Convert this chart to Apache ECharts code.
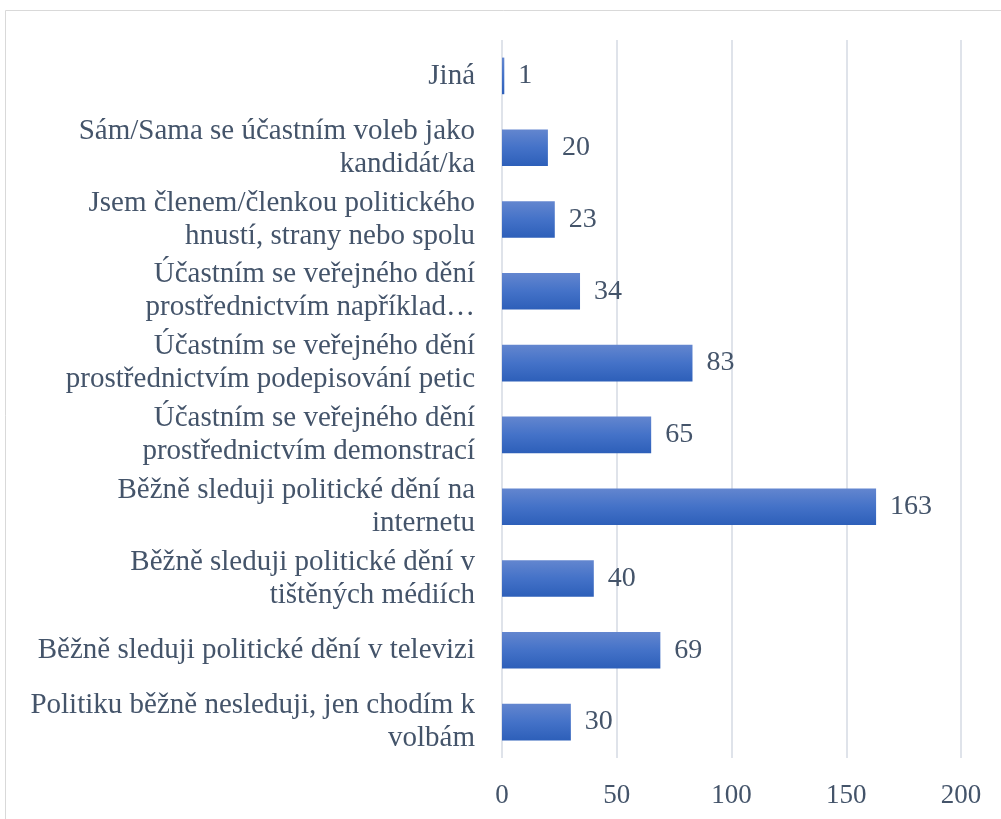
<html>
<head>
    <meta charset="utf-8" />
    <script src="https://cdn.jsdelivr.net/npm/echarts@6/dist/echarts.min.js"></script>
    <style>
        html, body { margin: 0; padding: 0; background: #fff; }
        #main { width: 1001px; height: 819px; }
    </style>
</head>
<body>
    <div id="main"></div>
    <script type="text/javascript">
        // categories top to bottom
        var categories = [
            'Jiná',
            'Sám/Sama se účastním voleb jako\nkandidát/ka',
            'Jsem členem/členkou politického\nhnustí, strany nebo spolu',
            'Účastním se veřejného dění\nprostřednictvím například…',
            'Účastním se veřejného dění\nprostřednictvím podepisování petic',
            'Účastním se veřejného dění\nprostřednictvím demonstrací',
            'Běžně sleduji politické dění na\ninternetu',
            'Běžně sleduji politické dění v\ntištěných médiích',
            'Běžně sleduji politické dění v televizi',
            'Politiku běžně nesleduji, jen chodím k\nvolbám'
        ];
        var values = [1, 20, 23, 34, 83, 65, 163, 40, 69, 30];
        var xTicks = [0, 50, 100, 150, 200];

        var textColor = '#44546a';
        var font = '"Liberation Serif", "Times New Roman", serif';

        var myChart = echarts.init(document.getElementById('main'));
        var option = {
            backgroundColor: '#fff',
            animation: false,
            graphic: [{
                type: 'rect',
                shape: { x: 5.5, y: 10.5, width: 1100, height: 900 },
                style: { fill: 'none', stroke: '#d9d9d9', lineWidth: 1 }
            }],
            grid: {
                left: 502,
                right: 40,
                top: 40,
                bottom: 61
            },
            xAxis: {
                type: 'value',
                min: xTicks[0],
                max: xTicks[xTicks.length - 1],
                interval: 50,
                axisLine: { show: false },
                axisTick: { show: false },
                axisLabel: {
                    color: textColor,
                    fontFamily: font,
                    fontSize: 27,
                    margin: 24
                },
                splitLine: {
                    lineStyle: { color: '#dfe3ea', width: 2 }
                }
            },
            yAxis: {
                type: 'category',
                inverse: true,
                data: categories,
                axisLine: { show: false },
                axisTick: { show: false },
                axisLabel: {
                    color: textColor,
                    fontFamily: font,
                    fontSize: 29,
                    lineHeight: 33,
                    align: 'right',
                    margin: 27
                }
            },
            series: [{
                type: 'bar',
                data: values,
                barWidth: '51%',
                itemStyle: {
                    color: new echarts.graphic.LinearGradient(0, 0, 0, 1, [
                        { offset: 0, color: '#6386cf' },
                        { offset: 0.5, color: '#4472c8' },
                        { offset: 1, color: '#2d5fb9' }
                    ])
                },
                label: {
                    show: true,
                    position: 'right',
                    distance: 14,
                    color: textColor,
                    fontFamily: font,
                    fontSize: 28
                }
            }]
        };
        myChart.setOption(option);
    </script>
</body>
</html>
